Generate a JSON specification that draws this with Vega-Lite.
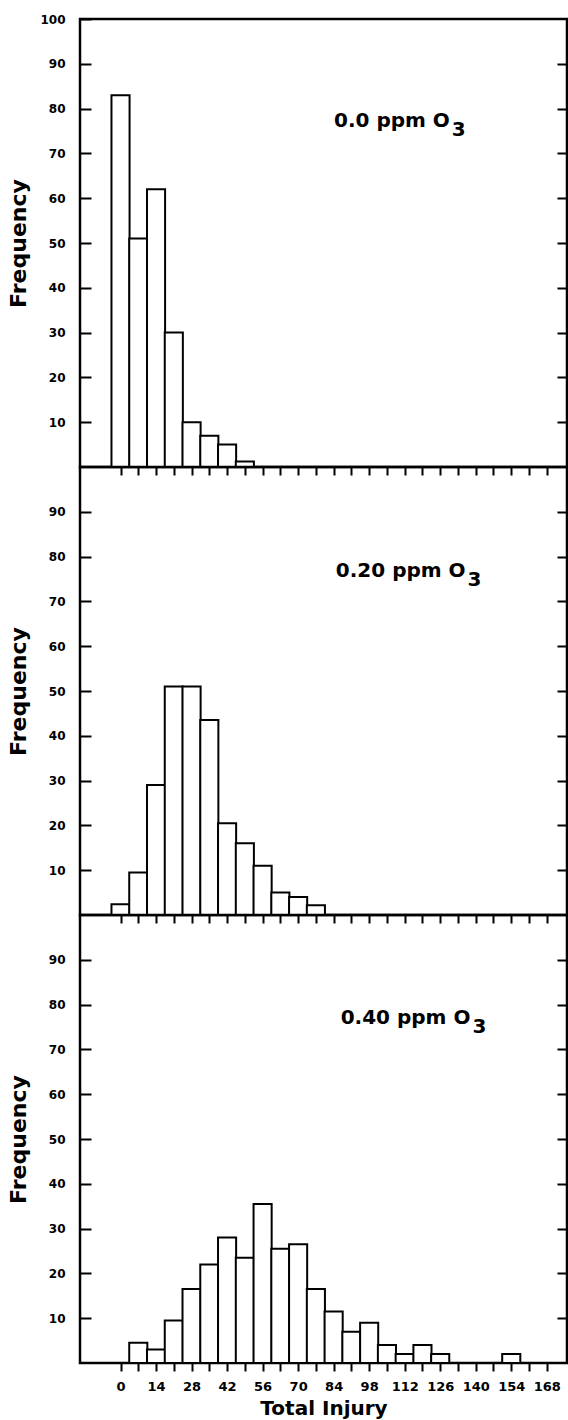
{
  "$schema": "https://vega.github.io/schema/vega-lite/v6.json",
  "padding": {"left": 6, "top": 11, "right": 0, "bottom": 0},
  "background": "white",
  "bounds": "flush",
  "spacing": 0,
  "datasets": {
    "p0": [
      {"injury": 0, "freq": 83}, {"injury": 7, "freq": 51}, {"injury": 14, "freq": 62}, {"injury": 21, "freq": 30},
      {"injury": 28, "freq": 10}, {"injury": 35, "freq": 7}, {"injury": 42, "freq": 5}, {"injury": 49, "freq": 1.2}
    ],
    "p20": [
      {"injury": 0, "freq": 2.4}, {"injury": 7, "freq": 9.5}, {"injury": 14, "freq": 29}, {"injury": 21, "freq": 51},
      {"injury": 28, "freq": 51}, {"injury": 35, "freq": 43.5}, {"injury": 42, "freq": 20.5}, {"injury": 49, "freq": 16},
      {"injury": 56, "freq": 11}, {"injury": 63, "freq": 5}, {"injury": 70, "freq": 4}, {"injury": 77, "freq": 2.2}
    ],
    "p40": [
      {"injury": 7, "freq": 4.5}, {"injury": 14, "freq": 3}, {"injury": 21, "freq": 9.5}, {"injury": 28, "freq": 16.5},
      {"injury": 35, "freq": 22}, {"injury": 42, "freq": 28}, {"injury": 49, "freq": 23.5}, {"injury": 56, "freq": 35.5},
      {"injury": 63, "freq": 25.5}, {"injury": 70, "freq": 26.5}, {"injury": 77, "freq": 16.5}, {"injury": 84, "freq": 11.5},
      {"injury": 91, "freq": 7}, {"injury": 98, "freq": 9}, {"injury": 105, "freq": 4}, {"injury": 112, "freq": 2},
      {"injury": 119, "freq": 4}, {"injury": 126, "freq": 2}, {"injury": 154, "freq": 2}
    ]
  },
  "vconcat": [
    {
      "width": 487, "height": 448,
      "layer": [
        {
          "data": {"name": "p0"},
          "mark": {"type": "bar", "fill": "white", "stroke": "black", "strokeWidth": 2, "width": 18.1},
          "encoding": {
            "x": {"field": "injury", "type": "quantitative", "scale": {"domain": [-14, 174], "nice": false, "zero": false},
              "axis": {"values": [0,7,14,21,28,35,42,49,56,63,70,77,84,91,98,105,112,119,126,133,140,147,154,161,168], "labels": false, "tickSize": 8, "tickWidth": 2, "title": null}},
            "y": {"field": "freq", "type": "quantitative", "scale": {"domain": [0, 100], "nice": false},
              "axis": {"values": [10,20,30,40,50,60,70,80,90,100], "tickSize": -11, "tickWidth": 2, "labelPadding": 26, "title": "Frequency", "titlePadding": 9}}
          }
        },
        {
          "data": {"values": [{"label": "0.0 ppm O", "sub": "3", "x": 129.8, "y": 75.9}]},
          "mark": {"type": "text", "align": "right", "baseline": "alphabetic", "font": "DejaVu Sans", "fontWeight": "bold", "fontSize": 20, "color": "black"},
          "encoding": {
            "x": {"field": "x", "type": "quantitative", "axis": null},
            "y": {"field": "y", "type": "quantitative", "axis": {"orient": "right", "values": [10,20,30,40,50,60,70,80,90], "labels": false, "tickSize": -10, "tickWidth": 2, "title": null}},
            "text": {"field": "label"}
          }
        },
        {
          "data": {"values": [{"label": "0.0 ppm O", "sub": "3", "x": 129.8, "y": 75.9}]},
          "mark": {"type": "text", "align": "left", "baseline": "alphabetic", "dx": 2, "dy": 9, "font": "DejaVu Sans", "fontWeight": "bold", "fontSize": 20, "color": "black"},
          "encoding": {
            "x": {"field": "x", "type": "quantitative", "axis": null},
            "y": {"field": "y", "type": "quantitative", "axis": null},
            "text": {"field": "sub"}
          }
        }
      ],
      "resolve": {"axis": {"x": "independent", "y": "independent"}}
    },
    {
      "width": 487, "height": 448,
      "layer": [
        {
          "data": {"name": "p20"},
          "mark": {"type": "bar", "fill": "white", "stroke": "black", "strokeWidth": 2, "width": 18.1},
          "encoding": {
            "x": {"field": "injury", "type": "quantitative", "scale": {"domain": [-14, 174], "nice": false, "zero": false},
              "axis": {"values": [0,7,14,21,28,35,42,49,56,63,70,77,84,91,98,105,112,119,126,133,140,147,154,161,168], "labels": false, "tickSize": 8, "tickWidth": 2, "title": null}},
            "y": {"field": "freq", "type": "quantitative", "scale": {"domain": [0, 100], "nice": false},
              "axis": {"values": [10,20,30,40,50,60,70,80,90], "tickSize": -11, "tickWidth": 2, "labelPadding": 26, "title": "Frequency", "titlePadding": 18}}
          }
        },
        {
          "data": {"values": [{"label": "0.20 ppm O", "sub": "3", "x": 136, "y": 75.5}]},
          "mark": {"type": "text", "align": "right", "baseline": "alphabetic", "font": "DejaVu Sans", "fontWeight": "bold", "fontSize": 20, "color": "black"},
          "encoding": {
            "x": {"field": "x", "type": "quantitative", "axis": null},
            "y": {"field": "y", "type": "quantitative", "axis": {"orient": "right", "values": [10,20,30,40,50,60,70,80,90], "labels": false, "tickSize": -10, "tickWidth": 2, "title": null}},
            "text": {"field": "label"}
          }
        },
        {
          "data": {"values": [{"label": "0.20 ppm O", "sub": "3", "x": 136, "y": 75.5}]},
          "mark": {"type": "text", "align": "left", "baseline": "alphabetic", "dx": 2, "dy": 9, "font": "DejaVu Sans", "fontWeight": "bold", "fontSize": 20, "color": "black"},
          "encoding": {
            "x": {"field": "x", "type": "quantitative", "axis": null},
            "y": {"field": "y", "type": "quantitative", "axis": null},
            "text": {"field": "sub"}
          }
        }
      ],
      "resolve": {"axis": {"x": "independent", "y": "independent"}}
    },
    {
      "width": 487, "height": 448,
      "layer": [
        {
          "data": {"name": "p40"},
          "mark": {"type": "bar", "fill": "white", "stroke": "black", "strokeWidth": 2, "width": 18.1},
          "encoding": {
            "x": {"field": "injury", "type": "quantitative", "scale": {"domain": [-14, 174], "nice": false, "zero": false},
              "axis": {"values": [0,7,14,21,28,35,42,49,56,63,70,77,84,91,98,105,112,119,126,133,140,147,154,161,168], "labels": true, "labelExpr": "datum.value % 14 === 0 ? datum.label : ''", "labelFlush": false, "labelOverlap": false, "labelPadding": 9, "labelFontSize": 13, "tickSize": 8, "tickWidth": 2, "title": "Total Injury", "titleFontSize": 20, "titlePadding": 5}},
            "y": {"field": "freq", "type": "quantitative", "scale": {"domain": [0, 100], "nice": false},
              "axis": {"values": [10,20,30,40,50,60,70,80,90], "tickSize": -11, "tickWidth": 2, "labelPadding": 26, "title": "Frequency", "titlePadding": 18}}
          }
        },
        {
          "data": {"values": [{"label": "0.40 ppm O", "sub": "3", "x": 137.9, "y": 75.6}]},
          "mark": {"type": "text", "align": "right", "baseline": "alphabetic", "font": "DejaVu Sans", "fontWeight": "bold", "fontSize": 20, "color": "black"},
          "encoding": {
            "x": {"field": "x", "type": "quantitative", "axis": null},
            "y": {"field": "y", "type": "quantitative", "axis": {"orient": "right", "values": [10,20,30,40,50,60,70,80,90], "labels": false, "tickSize": -10, "tickWidth": 2, "title": null}},
            "text": {"field": "label"}
          }
        },
        {
          "data": {"values": [{"label": "0.40 ppm O", "sub": "3", "x": 137.9, "y": 75.6}]},
          "mark": {"type": "text", "align": "left", "baseline": "alphabetic", "dx": 2, "dy": 9, "font": "DejaVu Sans", "fontWeight": "bold", "fontSize": 20, "color": "black"},
          "encoding": {
            "x": {"field": "x", "type": "quantitative", "axis": null},
            "y": {"field": "y", "type": "quantitative", "axis": null},
            "text": {"field": "sub"}
          }
        }
      ],
      "resolve": {"axis": {"x": "independent", "y": "independent"}}
    }
  ],
  "config": {
    "view": {"stroke": "black", "strokeWidth": 2.5},
    "axis": {
      "grid": false, "domain": false, "tickColor": "black",
      "labelFont": "DejaVu Sans", "labelFontWeight": "bold", "labelColor": "black", "labelFontSize": 12,
      "titleFont": "DejaVu Sans", "titleFontWeight": "bold", "titleColor": "black", "titleFontSize": 22
    }
  }
}
